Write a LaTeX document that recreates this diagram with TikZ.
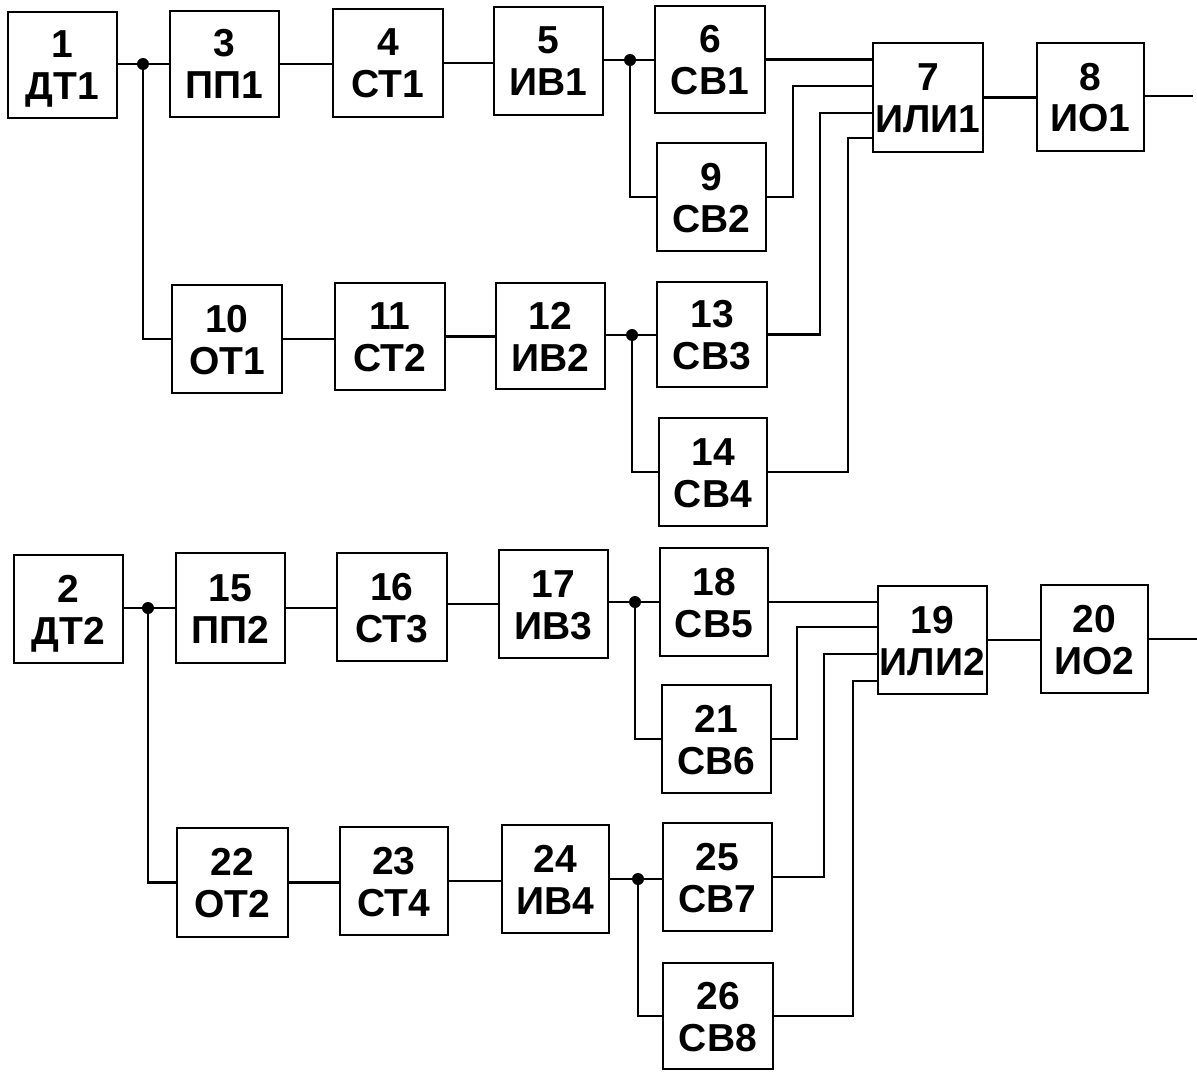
\documentclass[tikz,border=0pt]{standalone}
\usepackage{fontspec}
\setmainfont{Liberation Sans}
\newcommand\twol[2]{\makebox[0pt]{#1}\makebox[0pt]{\raisebox{-42pt}{#2}}}
\newcommand\mybox[6]{\node[blk,minimum width={(#4)-(#2)},minimum height={(#5)-(#3)}] (#1) at ({((#2)+(#4))/2},{((#3)+(#5))/2}) {#6};}
\tikzset{
  blk/.style={draw,line width=2.6pt,rectangle,inner sep=0pt,outer sep=0pt,
    font=\fontsize{39}{42}\selectfont\bfseries,text height=28pt,text depth=42pt},
  wire/.style={line width=2.3pt},
  jdot/.style={circle,fill,inner sep=0pt,minimum size=12pt}
}
\begin{document}
\begin{tikzpicture}[x=1pt,y=-1pt]
\useasboundingbox (0,0) rectangle (1197,1073);
% ---------- upper channel ----------
\mybox{b1}{8}{12}{117}{118}{\twol{1}{ДТ1}}
\mybox{b3}{170}{11}{279}{117}{\twol{3}{ПП1}}
\mybox{b4}{333}{9}{443}{117}{\twol{4}{СТ1}}
\mybox{b5}{494}{7}{603}{115}{\twol{5}{ИВ1}}
\mybox{b6}{655}{6}{765}{113}{\twol{6}{СВ1}}
\mybox{b9}{657}{143}{766}{251}{\twol{9}{СВ2}}
\mybox{b7}{873}{43}{983}{152}{\twol{7}{ИЛИ1}}
\mybox{b8}{1037}{43}{1144}{151}{\twol{8}{ИО1}}
\mybox{b10}{172}{285}{282}{393}{\twol{10}{ОТ1}}
\mybox{b11}{335}{283}{445}{390}{\twol{11}{СТ2}}
\mybox{b12}{496}{283}{605}{389}{\twol{12}{ИВ2}}
\mybox{b13}{657}{282}{767}{387}{\twol{13}{СВ3}}
\mybox{b14}{659}{418}{767}{526}{\twol{14}{СВ4}}
\coordinate (j1) at (143,64);
\coordinate (j2) at (630,60);
\coordinate (j3) at (632,335);
\coordinate (i12) at (793,86);
\coordinate (i13) at (820,113);
\coordinate (i14) at (848,138);
\coordinate (o1) at (1193,96);
\draw[wire] (b1.east|-j1) -- (b3.west|-j1);
\draw[wire] (j1) |- (b10.west);
\draw[wire] (b3.east) -- (b3.east-|b4.west);
\draw[wire] (b4.east) -- (b4.east-|b5.west);
\draw[wire] (b5.east|-j2) -- (b6.west|-j2);
\draw[wire] (j2) |- (b9.west);
\draw[wire] (b6.east) -- (b6.east-|b7.west);
\draw[wire] (b9.east) -| (i12) -- (i12-|b7.west);
\draw[wire] (b13.east) -| (i13) -- (i13-|b7.west);
\draw[wire] (b14.east) -| (i14) -- (i14-|b7.west);
\draw[wire] (b7.east) -- (b7.east-|b8.west);
\draw[wire] (b8.east|-o1) -- (o1);
\draw[wire] (b10.east) -- (b10.east-|b11.west);
\draw[wire] (b11.east) -- (b11.east-|b12.west);
\draw[wire] (b12.east|-j3) -- (b13.west|-j3);
\draw[wire] (j3) |- (b14.west);
\node[jdot] (d1) at (j1) {};
\node[jdot] (d2) at (j2) {};
\node[jdot] (d3) at (j3) {};
% ---------- lower channel ----------
\mybox{b2}{14}{555}{123}{663}{\twol{2}{ДТ2}}
\mybox{b15}{176}{553}{285}{663}{\twol{15}{ПП2}}
\mybox{b16}{337}{553}{447}{661}{\twol{16}{СТ3}}
\mybox{b17}{499}{550}{608}{658}{\twol{17}{ИВ3}}
\mybox{b18}{660}{548}{768}{656}{\twol{18}{СВ5}}
\mybox{b21}{662}{685}{771}{793}{\twol{21}{СВ6}}
\mybox{b19}{878}{586}{987}{694}{\twol{19}{ИЛИ2}}
\mybox{b20}{1041}{585}{1148}{693}{\twol{20}{ИО2}}
\mybox{b22}{177}{828}{288}{937}{\twol{22}{ОТ2}}
\mybox{b23}{340}{827}{448}{935}{\twol{23}{СТ4}}
\mybox{b24}{502}{825}{609}{933}{\twol{24}{ИВ4}}
\mybox{b25}{663}{823}{772}{931}{\twol{25}{СВ7}}
\mybox{b26}{663}{963}{773}{1069}{\twol{26}{СВ8}}
\coordinate (j4) at (148,608);
\coordinate (j5) at (635,602);
\coordinate (j6) at (638,879);
\coordinate (i22) at (797,627);
\coordinate (i23) at (824,654);
\coordinate (i24) at (853,681);
\coordinate (o2) at (1197,639);
\draw[wire] (b2.east|-j4) -- (b15.west|-j4);
\draw[wire] (j4) |- (b22.west);
\draw[wire] (b15.east) -- (b15.east-|b16.west);
\draw[wire] (b16.east|-b17.west) -- (b17.west);
\draw[wire] (b17.east|-j5) -- (b18.west|-j5);
\draw[wire] (j5) |- (b21.west);
\draw[wire] (b18.east) -- (b18.east-|b19.west);
\draw[wire] (b21.east) -| (i22) -- (i22-|b19.west);
\draw[wire] (b25.east) -| (i23) -- (i23-|b19.west);
\draw[wire] (b26.east) -| (i24) -- (i24-|b19.west);
\draw[wire] (b19.east) -- (b19.east-|b20.west);
\draw[wire] (b20.east|-o2) -- (o2);
\draw[wire] (b22.east) -- (b22.east-|b23.west);
\draw[wire] (b23.east) -- (b23.east-|b24.west);
\draw[wire] (b24.east|-j6) -- (b25.west|-j6);
\draw[wire] (j6) |- (b26.west);
\node[jdot] (d4) at (j4) {};
\node[jdot] (d5) at (j5) {};
\node[jdot] (d6) at (j6) {};
\end{tikzpicture}
\end{document}
